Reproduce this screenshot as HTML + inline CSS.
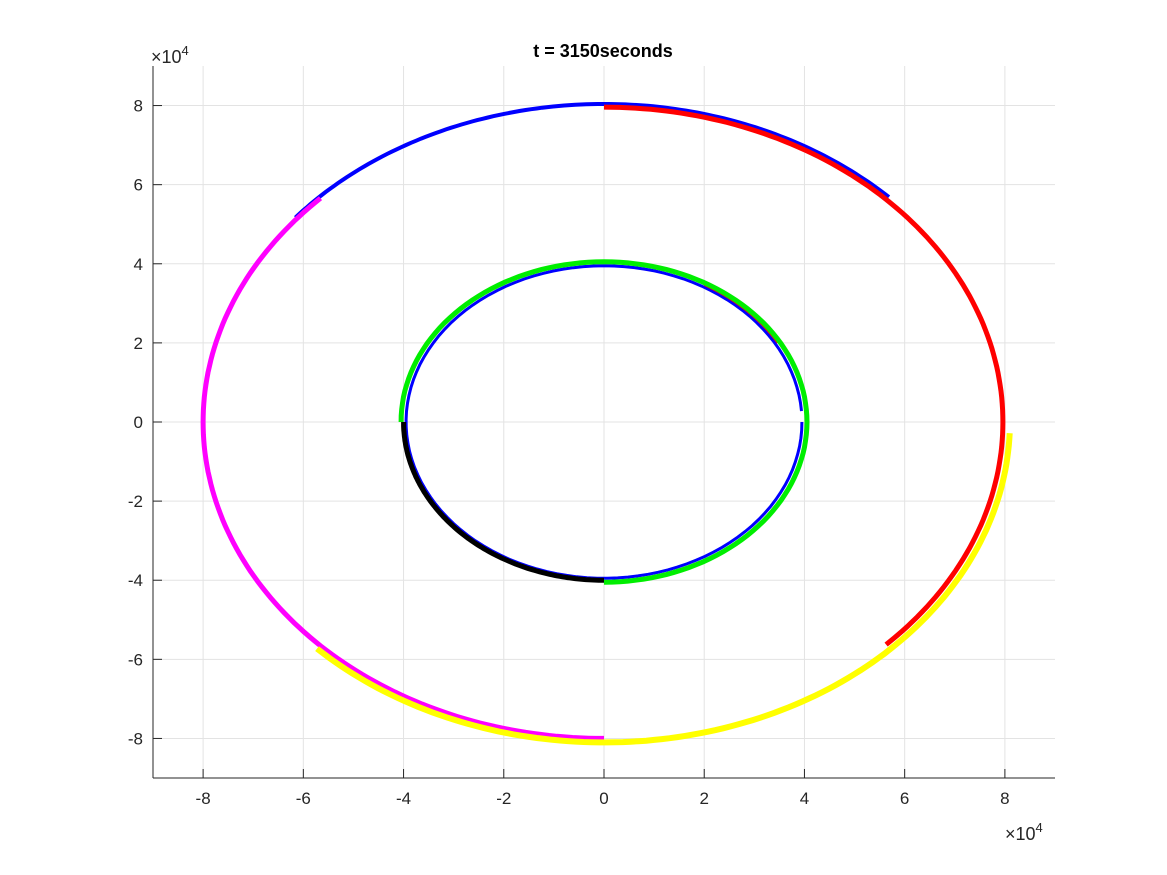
<!DOCTYPE html>
<html><head><meta charset="utf-8"><style>
body{margin:0;background:#fff;}
svg{display:block;font-family:"Liberation Sans",Arial,sans-serif;}
</style></head><body>
<svg id="chart" width="1167" height="875" viewBox="0 0 1167 875">
<rect width="1167" height="875" fill="#fff"/>
<g id="grid"></g>
<g id="marks"></g>
<g id="axes"></g>
<text x="603" y="57" text-anchor="middle" font-size="18" font-weight="bold">t = 3150seconds</text>
<text x="151" y="63" font-size="18" fill="#262626">×10<tspan dy="-8" font-size="13">4</tspan></text>
<text x="1005" y="840" font-size="18" fill="#262626">×10<tspan dy="-8" font-size="13">4</tspan></text>
</svg>
<script>
const xTicks=[-8,-6,-4,-2,0,2,4,6,8];
const yTicks=[-8,-6,-4,-2,0,2,4,6,8];
const segColors=["blue","red","#ff00ff","yellow","blue","black","red","#00ee00"];
const segRadius=[8.04,7.96,8.0,8.1,3.95,4.0,4.0,4.05];
const segStart=[140,90,135,-2,4,180,60,180];
const segEnd=[45,-45,270,-135,360,270,30,-90];
const segWidth=[4,5,5,6,3,5,2,5];
const X0=153,X1=1055,Y0=66,Y1=778,XMIN=-9,XMAX=9,YMIN=-9,YMAX=9;
const sx=v=>X0+(v-XMIN)/(XMAX-XMIN)*(X1-X0);
const sy=v=>Y1-(v-YMIN)/(YMAX-YMIN)*(Y1-Y0);
const NS="http://www.w3.org/2000/svg";
const grid=document.getElementById('grid'),axes=document.getElementById('axes'),marks=document.getElementById('marks');
function mk(t,a,p){const e=document.createElementNS(NS,t);for(const k in a)e.setAttribute(k,a[k]);p.appendChild(e);return e;}
xTicks.forEach(v=>{
 const g=mk('line',{x1:sx(v),x2:sx(v),y1:Y0,y2:Y1,stroke:'#e3e3e3','stroke-width':1},grid);
 
 
 const t=mk('line',{x1:sx(v),x2:sx(v),y1:Y1,y2:Y1-9,stroke:'#262626'},axes);
 
 
 const l=mk('text',{x:sx(v),y:Y1+26,'text-anchor':'middle','font-size':17,fill:'#262626'},axes);
 l.textContent=v;
 
 
});
yTicks.forEach(v=>{
 const g=mk('line',{x1:X0,x2:X1,y1:sy(v),y2:sy(v),stroke:'#e3e3e3','stroke-width':1},grid);
 
 
 const t=mk('line',{x1:X0,x2:X0+9,y1:sy(v),y2:sy(v),stroke:'#262626'},axes);
 
 
 const l=mk('text',{x:X0-10,y:sy(v)+6,'text-anchor':'end','font-size':17,fill:'#262626'},axes);
 l.textContent=v;
 
 
});
const ax=mk('line',{x1:X0,x2:X1,y1:Y1,y2:Y1,stroke:'#262626'},axes);


const ay=mk('line',{x1:X0,x2:X0,y1:Y0,y2:Y1,stroke:'#262626'},axes);


segColors.forEach((c,i)=>{
 const pts=[];const n=120;
 for(let k=0;k<=n;k++){const a=(segStart[i]+(segEnd[i]-segStart[i])*k/n)*Math.PI/180;
  pts.push(sx(segRadius[i]*Math.cos(a)).toFixed(1)+','+sy(segRadius[i]*Math.sin(a)).toFixed(1));}
 const p=mk('polyline',{points:pts.join(' '),fill:'none',stroke:c,'stroke-width':segWidth[i]},marks);
 
 
});
</script>
</body></html>
